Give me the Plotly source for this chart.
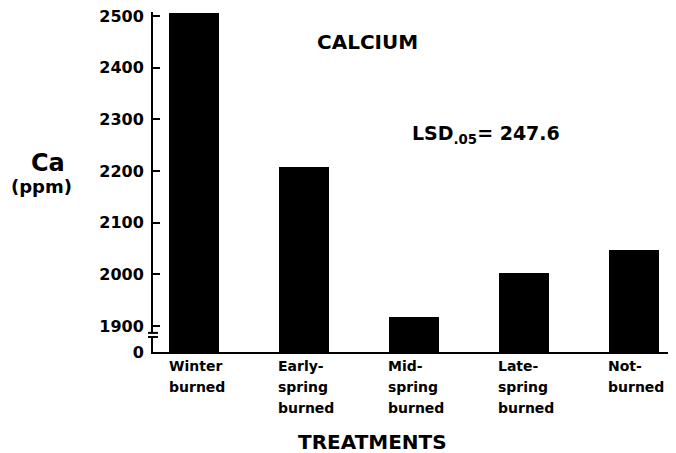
import plotly.graph_objects as go

# ---- data ----
treatments = ["Winter burned", "Early-spring burned", "Mid-spring burned",
              "Late-spring burned", "Not-burned"]
label_lines = [["Winter", "burned"],
               ["Early-", "spring", "burned"],
               ["Mid-", "spring", "burned"],
               ["Late-", "spring", "burned"],
               ["Not-", "burned"]]
calcium_ppm = [2506, 2208, 1917, 2003, 2047]
tick_values = [1850, 1900, 2000, 2100, 2200, 2300, 2400, 2500]
tick_labels = ["0", "1900", "2000", "2100", "2200", "2300", "2400", "2500"]
axis_floor = 1850  # value drawn at the broken-axis baseline ("0")

FONT = "DejaVu Sans"
x_pos = list(range(len(treatments)))

fig = go.Figure()
fig.add_trace(go.Bar(
    x=x_pos, y=[v - axis_floor for v in calcium_ppm], base=axis_floor,
    width=0.455, marker=dict(color="black", line=dict(width=0)),
    hoverinfo="skip", showlegend=False,
))

annotations = []
for i, lines in enumerate(label_lines):
    for k, line in enumerate(lines):
        annotations.append(dict(
            x=i - 0.25, xref="x", xanchor="left",
            y=-0.0412, yref="paper", yanchor="middle", yshift=-21 * k,
            text=line, showarrow=False,
            font=dict(family=FONT, size=14, color="black", weight="bold"),
        ))

def txt(x, y, text, size, xanchor="center"):
    return dict(x=x, y=y, xref="paper", yref="paper", xanchor=xanchor,
                yanchor="middle", text=text, showarrow=False,
                font=dict(family=FONT, size=size, color="black", weight="bold"))

annotations += [
    txt(0.411, 0.912, "CALCIUM", 20),
    txt(0.491, 0.64, "LSD<sub>.05</sub>= 247.6", 19, xanchor="left"),
    txt(-0.2008, 0.556, "Ca", 24),
    txt(-0.213, 0.488, "(ppm)", 18),
    txt(0.419, -0.265, "TREATMENTS", 20),
]

shapes = [
    # gap in the y axis
    dict(type="rect", xref="paper", yref="y", x0=-0.006, x1=0.006, y0=1880, y1=1886,
         fillcolor="white", line=dict(width=0), layer="above"),
    dict(type="line", xref="paper", yref="y", x0=-0.0096, x1=0.0096, y0=1879, y1=1879,
         line=dict(color="black", width=2), layer="above"),
    dict(type="line", xref="paper", yref="y", x0=-0.0096, x1=0.0096, y0=1887, y1=1887,
         line=dict(color="black", width=2), layer="above"),
]

fig.update_layout(
    width=668, height=445,
    margin=dict(l=145, r=0, t=4, b=101),
    paper_bgcolor="white", plot_bgcolor="white",
    bargap=0,
    xaxis=dict(range=[-0.373, 4.386], showticklabels=False, ticks="",
               showgrid=False, zeroline=False, showline=True,
               linecolor="black", linewidth=2),
    yaxis=dict(range=[axis_floor, 2508], tickvals=tick_values, ticktext=tick_labels,
               ticks="inside", ticklen=7, tickwidth=2, tickcolor="black",
               showgrid=False, zeroline=False, showline=True,
               linecolor="black", linewidth=2, ticklabelstandoff=4,
               ticklabeloverflow="allow",
               tickfont=dict(family=FONT, size=16, color="black", weight="bold")),
    annotations=annotations, shapes=shapes,
)

fig.write_html("out.html")
